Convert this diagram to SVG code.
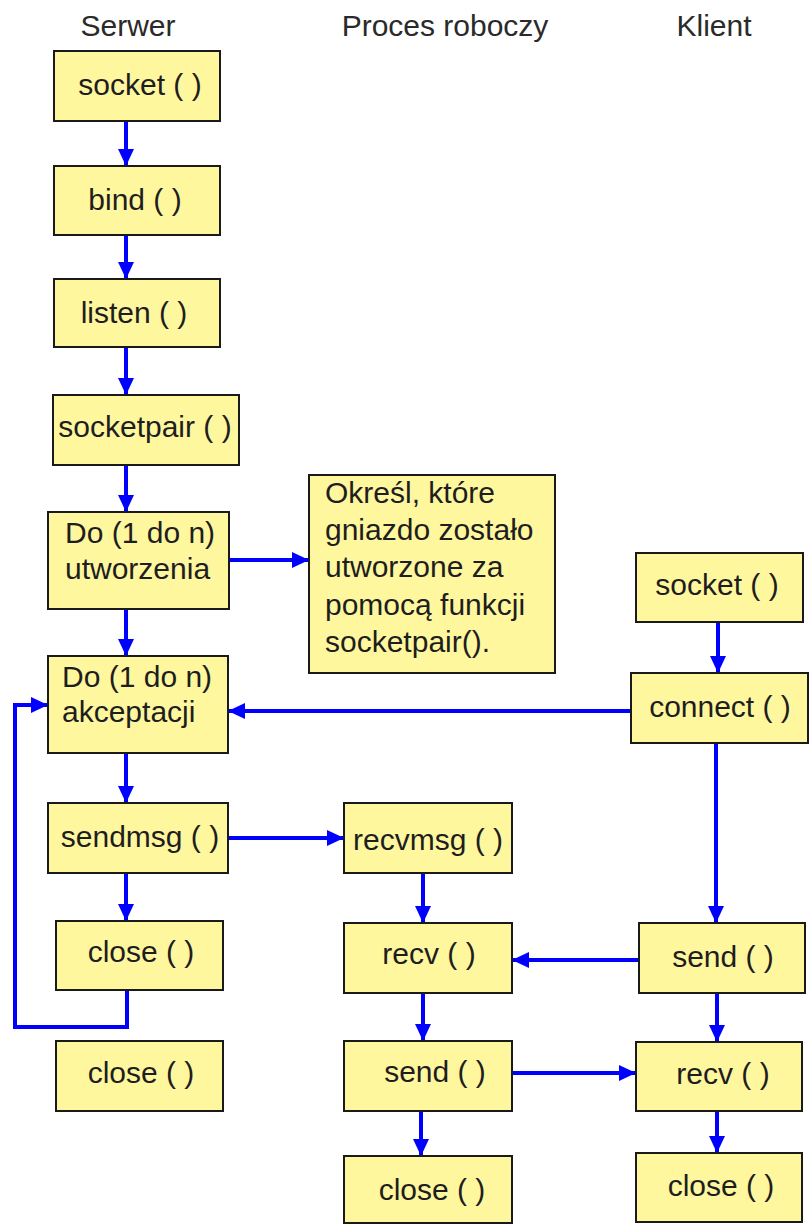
<svg xmlns="http://www.w3.org/2000/svg" width="809" height="1224" viewBox="0 0 809 1224">
  <style>
    .box { fill: #fff79e; stroke: #1a1a1a; stroke-width: 2; }
    .lbl { font-family: "Liberation Sans", Arial, sans-serif; font-size: 30px; fill: #1e1e1e; }
    .mid { text-anchor: middle; }
    .hdr { font-family: "Liberation Sans", Arial, sans-serif; font-size: 30px; fill: #2a2a2a; text-anchor: middle; }
    .wire { fill: none; stroke: #0000ff; stroke-width: 4; }
    .arr { marker-end: url(#head); }
  </style>
  <defs>
    <marker id="head" markerUnits="userSpaceOnUse" markerWidth="18" markerHeight="16" refX="17" refY="8" orient="auto">
      <path d="M0,0 L17,8 L0,16 z" fill="#0000ff"/>
    </marker>
  </defs>
  <rect width="809" height="1224" fill="#ffffff"/>

  <!-- column headings -->
  <g id="headings">
    <text class="hdr" x="128" y="36">Serwer</text>
    <text class="hdr" x="445" y="36">Proces roboczy</text>
    <text class="hdr" x="714" y="36">Klient</text>
  </g>

  <!-- connectors -->
  <g id="connectors">
    <path class="wire arr" d="M126,121 V166"/>
    <path class="wire arr" d="M126,235 V279"/>
    <path class="wire arr" d="M126,347 V395"/>
    <path class="wire arr" d="M126,465 V512"/>
    <path class="wire arr" d="M126,609 V656"/>
    <path class="wire arr" d="M126,753 V803"/>
    <path class="wire arr" d="M126,873 V921"/>
    <path class="wire arr" d="M229,560 H309"/>
    <path class="wire arr" d="M631,711 H228"/>
    <path class="wire arr" d="M127,990 V1027 H15 V705 H48"/>
    <path class="wire arr" d="M228,838 H344"/>
    <path class="wire arr" d="M423,873 V923"/>
    <path class="wire arr" d="M639,960 H512"/>
    <path class="wire arr" d="M423,993 V1041"/>
    <path class="wire arr" d="M512,1073 H636"/>
    <path class="wire arr" d="M421,1111 V1156"/>
    <path class="wire arr" d="M718,622 V673"/>
    <path class="wire arr" d="M716,743 V923"/>
    <path class="wire arr" d="M717,993 V1042"/>
    <path class="wire arr" d="M717,1111 V1153"/>
  </g>

  <!-- server column -->
  <g id="srv-socket">
    <rect class="box" x="54" y="51" width="166" height="70"/>
    <text class="lbl mid" x="140" y="95">socket ( )</text>
  </g>
  <g id="srv-bind">
    <rect class="box" x="54" y="166" width="166" height="69"/>
    <text class="lbl mid" x="135" y="210">bind ( )</text>
  </g>
  <g id="srv-listen">
    <rect class="box" x="54" y="279" width="166" height="68"/>
    <text class="lbl mid" x="134" y="323">listen ( )</text>
  </g>
  <g id="srv-socketpair">
    <rect class="box" x="53" y="395" width="186" height="70"/>
    <text class="lbl mid" x="145" y="437">socketpair ( )</text>
  </g>
  <g id="srv-create">
    <rect class="box" x="48" y="512" width="181" height="97"/>
    <text class="lbl" x="65" y="543">Do (1 do n)</text>
    <text class="lbl" x="65" y="579">utworzenia</text>
  </g>
  <g id="note">
    <rect class="box" x="309" y="475" width="246" height="198"/>
    <text class="lbl" x="325" y="503">Określ, które</text>
    <text class="lbl" x="325" y="540">gniazdo zostało</text>
    <text class="lbl" x="325" y="577">utworzone za</text>
    <text class="lbl" x="325" y="615">pomocą funkcji</text>
    <text class="lbl" x="325" y="652">socketpair().</text>
  </g>
  <g id="srv-accept">
    <rect class="box" x="48" y="656" width="180" height="97"/>
    <text class="lbl" x="62" y="687">Do (1 do n)</text>
    <text class="lbl" x="62" y="722">akceptacji</text>
  </g>
  <g id="srv-sendmsg">
    <rect class="box" x="48" y="803" width="180" height="70"/>
    <text class="lbl mid" x="140" y="847">sendmsg ( )</text>
  </g>
  <g id="srv-close-loop">
    <rect class="box" x="56" y="921" width="167" height="69"/>
    <text class="lbl mid" x="141" y="962">close ( )</text>
  </g>
  <g id="srv-close">
    <rect class="box" x="56" y="1041" width="167" height="70"/>
    <text class="lbl mid" x="141" y="1083">close ( )</text>
  </g>

  <!-- worker column -->
  <g id="wrk-recvmsg">
    <rect class="box" x="344" y="803" width="168" height="70"/>
    <text class="lbl mid" x="428" y="850">recvmsg ( )</text>
  </g>
  <g id="wrk-recv">
    <rect class="box" x="344" y="923" width="168" height="70"/>
    <text class="lbl mid" x="429" y="964">recv ( )</text>
  </g>
  <g id="wrk-send">
    <rect class="box" x="344" y="1041" width="168" height="70"/>
    <text class="lbl mid" x="435" y="1082">send ( )</text>
  </g>
  <g id="wrk-close">
    <rect class="box" x="344" y="1156" width="168" height="67"/>
    <text class="lbl mid" x="432" y="1200">close ( )</text>
  </g>

  <!-- client column -->
  <g id="cli-socket">
    <rect class="box" x="636" y="553" width="167" height="69"/>
    <text class="lbl mid" x="717" y="595">socket ( )</text>
  </g>
  <g id="cli-connect">
    <rect class="box" x="631" y="673" width="177" height="70"/>
    <text class="lbl mid" x="720" y="717">connect ( )</text>
  </g>
  <g id="cli-send">
    <rect class="box" x="639" y="923" width="166" height="70"/>
    <text class="lbl mid" x="723" y="967">send ( )</text>
  </g>
  <g id="cli-recv">
    <rect class="box" x="636" y="1042" width="166" height="69"/>
    <text class="lbl mid" x="723" y="1084">recv ( )</text>
  </g>
  <g id="cli-close">
    <rect class="box" x="636" y="1153" width="166" height="69"/>
    <text class="lbl mid" x="721" y="1196">close ( )</text>
  </g>
</svg>
